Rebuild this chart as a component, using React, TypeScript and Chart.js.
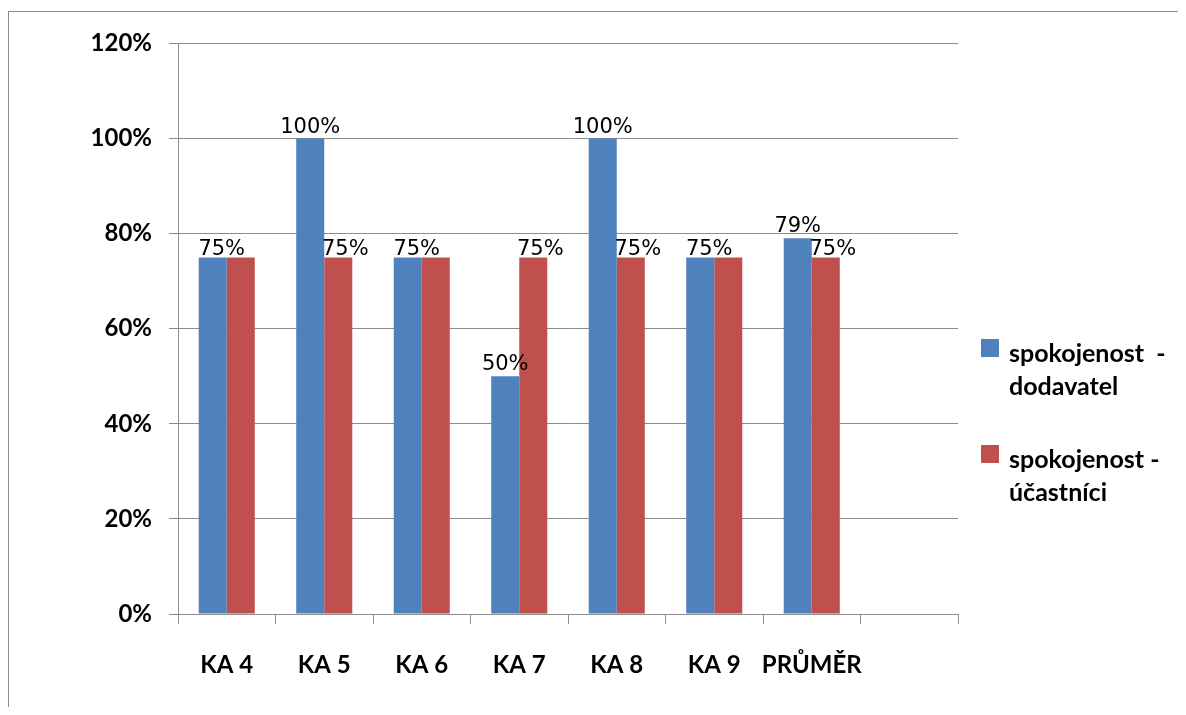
import React, { useEffect, useRef } from 'react';
import { Chart, registerables } from 'chart.js';

Chart.register(...registerables);

const categories = ['KA 4', 'KA 5', 'KA 6', 'KA 7', 'KA 8', 'KA 9', 'PRŮMĚR', ''];
const dodavatel: (number | null)[] = [75, 100, 75, 50, 100, 75, 79, null];
const ucastnici: (number | null)[] = [75, 75, 75, 75, 75, 75, 75, null];
const seriesNames = [['spokojenost  -', 'dodavatel'], ['spokojenost -', 'účastníci']];
const seriesColors = ['#4F81BD', '#C0504D'];
const yMin = 0;
const yMax = 120;
const yStep = 20;

const axisFont = { family: 'Lato', size: 24, weight: 'bold' as const };

const valueLabels = {
  id: 'valueLabels',
  afterDatasetsDraw(chart: any) {
    const ctx = chart.ctx;
    const m0 = chart.getDatasetMeta(0);
    const m1 = chart.getDatasetMeta(1);
    ctx.save();
    ctx.font = '21px "DejaVu Sans"';
    ctx.fillStyle = '#000';
    ctx.textAlign = 'center';
    ctx.textBaseline = 'alphabetic';
    categories.forEach((_, i) => {
      const a = dodavatel[i];
      const b = ucastnici[i];
      if (a == null || b == null) return;
      const ea = m0.data[i];
      const eb = m1.data[i];
      if (a === b) {
        ctx.fillText(a + '%', ea.x + 9, ea.y - 2);
      } else {
        ctx.fillText(a + '%', ea.x, ea.y - 6);
        ctx.fillText(b + '%', eb.x + 7, eb.y - 2);
      }
    });
    ctx.restore();
  },
};

const sideLegend = {
  id: 'sideLegend',
  afterDraw(chart: any) {
    const ctx = chart.ctx;
    ctx.save();
    chart.data.datasets.forEach((ds: any, i: number) => {
      const top = 327 + i * 106;
      ctx.fillStyle = ds.backgroundColor;
      ctx.fillRect(972, top, 18, 18);
      ctx.fillStyle = '#000';
      ctx.font = 'bold 25px Lato';
      ctx.textAlign = 'left';
      ctx.textBaseline = 'alphabetic';
      const lines: string[] = seriesNames[i];
      lines.forEach((t, j) => {
        ctx.fillText(t, 1000, top + 23 + j * 33);
      });
    });
    ctx.restore();
  },
};

function ChartView() {
  const ref = useRef<HTMLCanvasElement | null>(null);
  useEffect(() => {
    if (!ref.current) return;
    const chart = new Chart(ref.current, {
      type: 'bar',
      data: {
        labels: categories,
        datasets: [
          {
            label: seriesNames[0].join(' '),
            data: dodavatel,
            backgroundColor: seriesColors[0],
            borderWidth: 0,
            categoryPercentage: 0.575,
            barPercentage: 1,
          },
          {
            label: seriesNames[1].join(' '),
            data: ucastnici,
            backgroundColor: seriesColors[1],
            borderWidth: 0,
            categoryPercentage: 0.575,
            barPercentage: 1,
          },
        ],
      },
      options: {
        responsive: false,
        animation: false,
        layout: { padding: { left: 0, top: 31, right: 228, bottom: 0 } },
        plugins: {
          legend: { display: false },
          tooltip: { enabled: false },
        },
        scales: {
          x: {
            offset: true,
            grid: { drawOnChartArea: false, drawTicks: true, tickLength: 10, color: '#8c8c8c', offset: true },
            border: { color: '#8c8c8c', width: 1 },
            ticks: { font: axisFont, color: '#000', padding: 27, maxRotation: 0, autoSkip: false },
            afterFit: (s: any) => {
              s.height = 93;
            },
          },
          y: {
            min: yMin,
            max: yMax,
            grid: { color: '#8c8c8c', tickLength: 9 },
            border: { color: '#8c8c8c', width: 1 },
            ticks: {
              stepSize: yStep,
              font: axisFont,
              color: '#000',
              padding: 17,
              callback: (v: any) => v + '%',
            },
            afterFit: (s: any) => {
              s.width = 169;
            },
          },
        },
      },
      plugins: [valueLabels, sideLegend],
    });
    return () => chart.destroy();
  }, []);
  return <canvas ref={ref} width={1177} height={695} style={{ display: 'block' }} />;
}

export default function App() {
  return (
    <div style={{ paddingTop: 3 }}>
      <div
        style={{
          width: 1178,
          height: 696,
          borderTop: '1px solid #8c8c8c',
          borderLeft: '1px solid #8c8c8c',
          boxSizing: 'border-box',
          overflow: 'hidden',
        }}
      >
        <ChartView />
      </div>
    </div>
  );
}
